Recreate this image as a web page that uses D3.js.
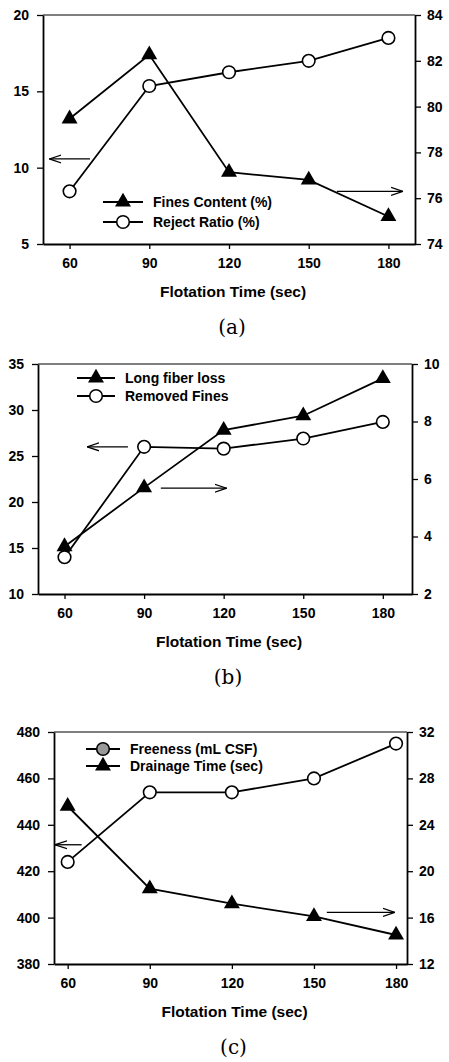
<!DOCTYPE html>
<html>
<head>
<meta charset="utf-8">
<script src="https://cdn.jsdelivr.net/npm/d3@7"></script>
<style>
  body { margin: 0; background: #fff; }
  svg text { font-family: "Liberation Sans", Arial, sans-serif; fill: #000; }
  .cap { font-family: "DejaVu Serif", "Liberation Serif", serif; font-size: 20px; }
</style>
</head>
<body>
<div id="chart"></div>
<script>
// flotation time (sec)
var flotationTimes = [60, 90, 120, 150, 180];

// (a)
var finesContent = [13.2, 17.4, 9.7, 9.2, 6.8];
var rejectRatio = [76.3, 80.9, 81.5, 82.0, 83.0];
var aLeftTicks = [5, 10, 15, 20];
var aRightTicks = [74, 76, 78, 80, 82, 84];

// (b)
var longFiberLoss = [3.65, 5.7, 7.7, 8.2, 9.5];
var removedFines = [14.0, 26.0, 25.8, 26.9, 28.7];
var bLeftTicks = [10, 15, 20, 25, 30, 35];
var bRightTicks = [2, 4, 6, 8, 10];

// (c)
var freeness = [424, 454, 454, 460, 475];
var drainageTime = [25.6, 18.5, 17.2, 16.1, 14.5];
var cLeftTicks = [380, 400, 420, 440, 460, 480];
var cRightTicks = [12, 16, 20, 24, 28, 32];

var svg = d3.select("#chart").append("svg")
    .attr("width", 449)
    .attr("height", 1062);

svg.append("defs").append("marker")
    .attr("id", "arrowhead")
    .attr("viewBox", "0 -5 12 10")
    .attr("refX", 12).attr("refY", 0)
    .attr("markerWidth", 12).attr("markerHeight", 10)
    .attr("markerUnits", "userSpaceOnUse")
    .attr("orient", "auto")
    .append("path")
    .attr("d", "M0,-4L12,0L0,4")
    .attr("fill", "none")
    .attr("stroke", "#000")
    .attr("stroke-width", 1.3);

var tri = d3.symbol().type(d3.symbolTriangle).size(110);

function drawPanel(p) {
    var g = svg.append("g");
    var x = d3.scaleLinear().domain(p.xDomain).range([p.left, p.right]);
    var yL = d3.scaleLinear().domain(d3.extent(p.leftTicks)).range([p.bottom, p.top]);
    var yR = d3.scaleLinear().domain(d3.extent(p.rightTicks)).range([p.bottom, p.top]);

    // frame top
    g.append("line")
        .attr("x1", p.left).attr("x2", p.right)
        .attr("y1", p.top).attr("y2", p.top)
        .attr("stroke", "#000").attr("stroke-width", 1);

    var ax = g.append("g").attr("transform", "translate(0," + p.bottom + ")")
        .call(d3.axisBottom(x).tickValues(flotationTimes).tickSize(5).tickSizeOuter(0).tickPadding(9));
    var al = g.append("g").attr("transform", "translate(" + p.left + ",0)")
        .call(d3.axisLeft(yL).tickValues(p.leftTicks).tickSize(6).tickSizeOuter(0).tickPadding(8));
    var ar = g.append("g").attr("transform", "translate(" + p.right + ",0)")
        .call(d3.axisRight(yR).tickValues(p.rightTicks).tickSize(6).tickSizeOuter(0).tickPadding(6));
    [ax, al, ar].forEach(function (a) {
        a.attr("font-family", null).attr("font-size", 14).attr("font-weight", "bold");
        a.selectAll("path.domain").attr("stroke-width", 1.8);
        a.selectAll(".tick line").attr("stroke-width", 1.3);
    });

    g.append("text")
        .attr("x", (p.left + p.right) / 2 + 4)
        .attr("y", p.bottom + 53)
        .attr("text-anchor", "middle")
        .attr("font-size", 15.5)
        .attr("font-weight", "bold")
        .text("Flotation Time (sec)");

    g.append("text").attr("class", "cap")
        .attr("x", (p.left + p.right) / 2 + 3)
        .attr("y", p.bottom + 90)
        .attr("text-anchor", "middle")
        .text(p.caption);

    p.series.forEach(function (s) {
        var y = s.axis === "left" ? yL : yR;
        var line = d3.line()
            .x(function (d, i) { return x(flotationTimes[i]); })
            .y(function (d) { return y(d); });
        g.append("path")
            .datum(s.values)
            .attr("d", line)
            .attr("fill", "none")
            .attr("stroke", "#000")
            .attr("stroke-width", 1.8);
        var pts = g.selectAll(null).data(s.values).enter();
        if (s.shape === "triangle") {
            pts.append("path")
                .attr("d", tri)
                .attr("transform", function (d, i) {
                    return "translate(" + x(flotationTimes[i]) + "," + y(d) + ")";
                })
                .attr("fill", "#000");
        } else {
            pts.append("circle")
                .attr("cx", function (d, i) { return x(flotationTimes[i]); })
                .attr("cy", function (d) { return y(d); })
                .attr("r", 6.3)
                .attr("fill", "#fff")
                .attr("stroke", "#000")
                .attr("stroke-width", 1.6);
        }
    });

    // legend
    p.series.forEach(function (s, i) {
        var ly = p.legendY + i * p.legendGap;
        var lx = p.legendX;
        g.append("line")
            .attr("x1", lx).attr("x2", lx + p.legendLen)
            .attr("y1", ly).attr("y2", ly)
            .attr("stroke", "#000").attr("stroke-width", 1.8);
        if (s.shape === "triangle") {
            g.append("path").attr("d", tri)
                .attr("transform", "translate(" + (lx + p.legendLen / 2) + "," + ly + ")")
                .attr("fill", "#000");
        } else {
            g.append("circle")
                .attr("cx", lx + p.legendLen / 2).attr("cy", ly).attr("r", 6.3)
                .attr("fill", s.legendFill || "#fff")
                .attr("stroke", "#000").attr("stroke-width", 1.6);
        }
        g.append("text")
            .attr("x", lx + p.legendLen + 10)
            .attr("y", ly + 5)
            .attr("font-size", 14)
            .attr("font-weight", "bold")
            .text(s.name);
    });

    // arrows pointing to the axis each series uses
    p.arrows.forEach(function (a) {
        var y = a.axis === "left" ? yL : yR;
        g.append("line")
            .attr("x1", x(a.from)).attr("x2", x(a.to))
            .attr("y1", y(a.value)).attr("y2", y(a.value))
            .attr("stroke", "#000").attr("stroke-width", 1.3)
            .attr("marker-end", "url(#arrowhead)");
    });
}

drawPanel({
    caption: "(a)",
    left: 43, right: 415, top: 15, bottom: 244,
    xDomain: [50, 190],
    leftTicks: aLeftTicks, rightTicks: aRightTicks,
    series: [
        { name: "Fines Content (%)", values: finesContent, axis: "left", shape: "triangle" },
        { name: "Reject Ratio (%)", values: rejectRatio, axis: "right", shape: "circle" }
    ],
    legendX: 103, legendY: 202, legendGap: 20, legendLen: 40,
    arrows: [
        { from: 67.7, to: 52.4, value: 10.57, axis: "left" },
        { from: 160.6, to: 185.5, value: 76.3, axis: "right" }
    ]
});

drawPanel({
    caption: "(b)",
    left: 38, right: 412, top: 364, bottom: 594,
    xDomain: [50, 191],
    leftTicks: bLeftTicks, rightTicks: bRightTicks,
    series: [
        { name: "Long fiber loss", values: longFiberLoss, axis: "right", shape: "triangle" },
        { name: "Removed Fines", values: removedFines, axis: "left", shape: "circle" }
    ],
    legendX: 77, legendY: 378, legendGap: 18, legendLen: 38,
    arrows: [
        { from: 83.9, to: 68.5, value: 26.0, axis: "left" },
        { from: 96.3, to: 121.1, value: 5.68, axis: "right" }
    ]
});

drawPanel({
    caption: "(c)",
    left: 54, right: 407, top: 732, bottom: 964,
    xDomain: [55, 184],
    leftTicks: cLeftTicks, rightTicks: cRightTicks,
    series: [
        { name: "Freeness (mL CSF)", values: freeness, axis: "left", shape: "circle", legendFill: "#999" },
        { name: "Drainage Time (sec)", values: drainageTime, axis: "right", shape: "triangle" }
    ],
    legendX: 86, legendY: 749, legendGap: 17, legendLen: 34,
    arrows: [
        { from: 65.1, to: 55.4, value: 431.4, axis: "left" },
        { from: 154.7, to: 179.6, value: 16.45, axis: "right" }
    ]
});
</script>
</body>
</html>
